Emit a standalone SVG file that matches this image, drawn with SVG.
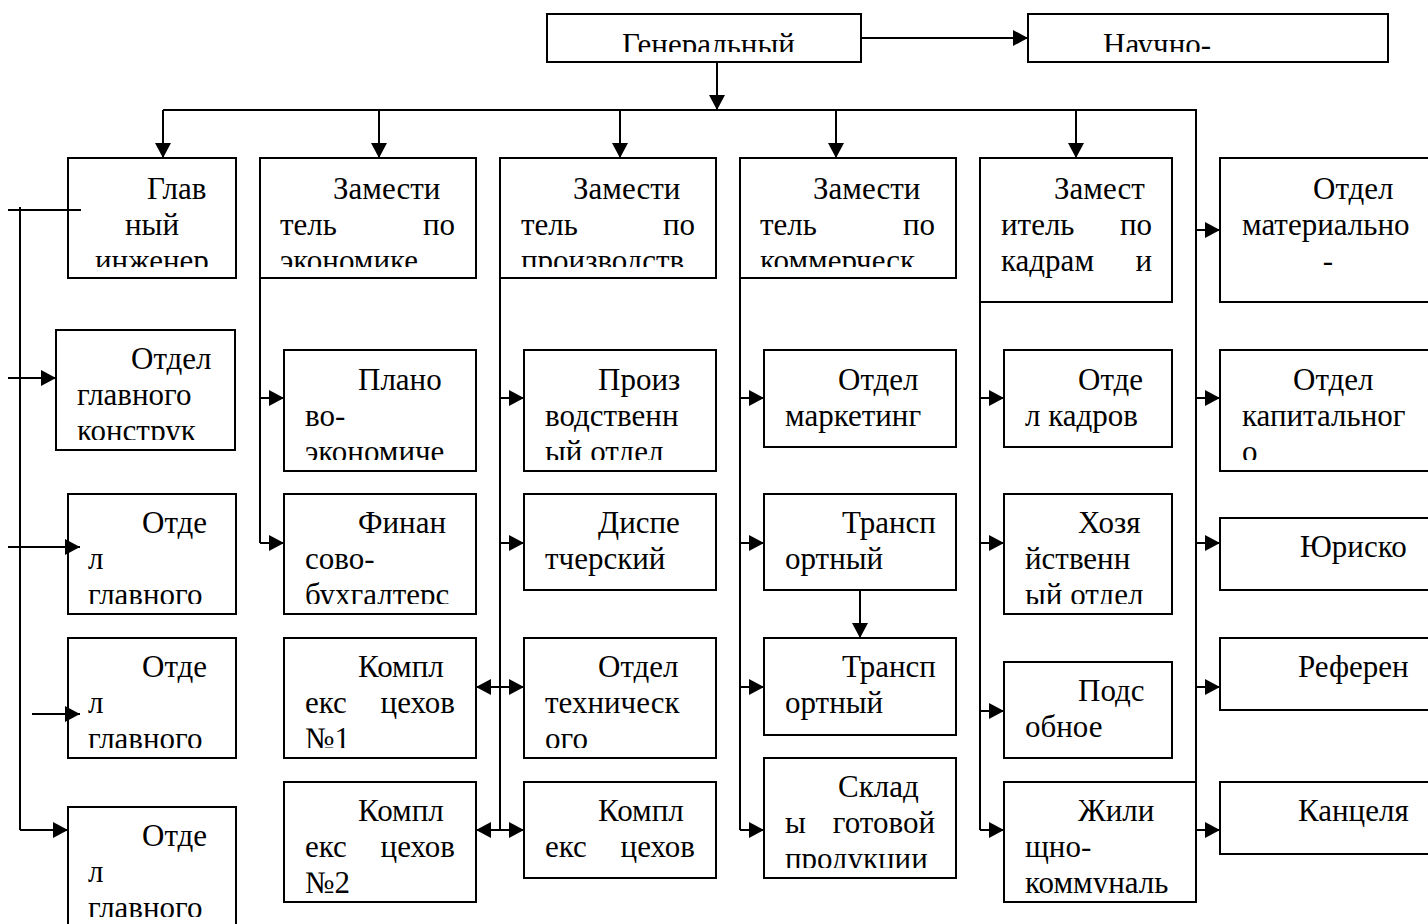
<svg xmlns="http://www.w3.org/2000/svg" width="1428" height="924" viewBox="0 0 1428 924">
<style>
.b{fill:none;stroke:#000;stroke-width:2}
.c{fill:none;stroke:#000;stroke-width:2}
.a{marker-end:url(#ah)}
.d{marker-start:url(#ah);marker-end:url(#ah)}
text{font-family:"Liberation Serif","Times New Roman",serif;font-size:31px;fill:#000}
.e{text-anchor:end}
.m{text-anchor:middle}
</style>
<defs>
<marker id="ah" markerUnits="userSpaceOnUse" markerWidth="16" markerHeight="16" refX="15" refY="8" orient="auto-start-reverse"><path d="M0,0 L15,8 L0,16 z" fill="#000"/></marker>
<clipPath id="k-gen"><rect x="547" y="14" width="314" height="38"/></clipPath>
<clipPath id="k-nau"><rect x="1028" y="14" width="360" height="38"/></clipPath>
<clipPath id="k-r1"><rect x="0" y="158" width="1428" height="109"/></clipPath>
<clipPath id="k-r1b"><rect x="0" y="158" width="1428" height="133"/></clipPath>
<clipPath id="k-ogk"><rect x="56" y="330" width="179" height="110"/></clipPath>
<clipPath id="k-r2"><rect x="0" y="350" width="1428" height="110"/></clipPath>
<clipPath id="k-r3"><rect x="0" y="494" width="1428" height="110"/></clipPath>
<clipPath id="k-r4"><rect x="0" y="638" width="1428" height="110"/></clipPath>
<clipPath id="k-r5"><rect x="0" y="782" width="1428" height="111"/></clipPath>
<clipPath id="k-skl"><rect x="764" y="758" width="192" height="110"/></clipPath>
<clipPath id="k-og3"><rect x="68" y="807" width="168" height="110"/></clipPath>
</defs>

<g id="connectors">
<path class="c a" d="M861,38 H1028"/>
<path class="c a" d="M717,62 V110"/>
<path class="c" d="M163,110 H1196 V830"/>
<path class="c a" d="M163,110 V158"/>
<path class="c a" d="M379,110 V158"/>
<path class="c a" d="M620,110 V158"/>
<path class="c a" d="M836,110 V158"/>
<path class="c a" d="M1076,110 V158"/>
<path class="c" d="M8,210 H81"/>
<path class="c" d="M20,207 V830"/>
<path class="c a" d="M20,830 H68"/>
<path class="c a" d="M8,378 H56"/>
<path class="c a" d="M8,547 H80"/>
<path class="c a" d="M32,714 H80"/>
<path class="c" d="M260,278 V543"/>
<path class="c a" d="M260,398 H284"/>
<path class="c a" d="M260,543 H284"/>
<path class="c" d="M500,278 V830"/>
<path class="c a" d="M500,398 H524"/>
<path class="c a" d="M500,543 H524"/>
<path class="c d" d="M476,687 H524"/>
<path class="c d" d="M476,830 H524"/>
<path class="c" d="M740,278 V830"/>
<path class="c a" d="M740,398 H764"/>
<path class="c a" d="M740,543 H764"/>
<path class="c a" d="M740,687 H764"/>
<path class="c a" d="M740,830 H764"/>
<path class="c a" d="M860,590 V638"/>
<path class="c" d="M980,302 V830"/>
<path class="c a" d="M980,398 H1004"/>
<path class="c a" d="M980,543 H1004"/>
<path class="c a" d="M980,711 H1004"/>
<path class="c a" d="M980,830 H1004"/>
<path class="c a" d="M1196,230 H1220"/>
<path class="c a" d="M1196,398 H1220"/>
<path class="c a" d="M1196,543 H1220"/>
<path class="c a" d="M1196,687 H1220"/>
<path class="c a" d="M1196,830 H1220"/>
</g>

<g id="gen"><rect class="b" x="547" y="14" width="314" height="48"/><text x="622" y="55" clip-path="url(#k-gen)">Генеральный</text></g>
<g id="nauch"><rect class="b" x="1028" y="14" width="360" height="48"/><text x="1103" y="55" clip-path="url(#k-nau)">Научно-</text></g>

<g id="glav"><rect class="b" x="68" y="158" width="168" height="120"/><g clip-path="url(#k-r1)"><text x="147" y="199">Глав</text><text x="125" y="235">ный</text><text x="95" y="271">инженер</text></g></g>
<g id="zeco"><rect class="b" x="260" y="158" width="216" height="120"/><g clip-path="url(#k-r1)"><text x="333" y="199">Замести</text><text x="280" y="235">тель</text><text class="e" x="455" y="235">по</text><text x="280" y="271">экономике</text></g></g>
<g id="zpro"><rect class="b" x="500" y="158" width="216" height="120"/><g clip-path="url(#k-r1)"><text x="573" y="199">Замести</text><text x="521" y="235">тель</text><text class="e" x="695" y="235">по</text><text x="521" y="271">производств</text></g></g>
<g id="zkom"><rect class="b" x="740" y="158" width="216" height="120"/><g clip-path="url(#k-r1)"><text x="813" y="199">Замести</text><text x="760" y="235">тель</text><text class="e" x="935" y="235">по</text><text x="760" y="271">коммерческ</text></g></g>
<g id="zkad"><rect class="b" x="980" y="158" width="192" height="144"/><g clip-path="url(#k-r1b)"><text x="1054" y="199">Замест</text><text x="1001" y="235">итель</text><text class="e" x="1152" y="235">по</text><text x="1001" y="271">кадрам</text><text class="e" x="1152" y="271">и</text></g></g>
<g id="omat"><rect class="b" x="1220" y="158" width="220" height="144"/><g clip-path="url(#k-r1b)"><text x="1313" y="199">Отдел</text><text x="1242" y="235">материально</text><text class="m" x="1328" y="271">-</text></g></g>

<g id="ogk"><rect class="b" x="56" y="330" width="179" height="120"/><g clip-path="url(#k-ogk)"><text x="131" y="369">Отдел</text><text x="77" y="405">главного</text><text x="77" y="441">конструк</text></g></g>
<g id="plan"><rect class="b" x="284" y="350" width="192" height="121"/><g clip-path="url(#k-r2)"><text x="358" y="390">Плано</text><text x="305" y="426">во-</text><text x="305" y="462">экономиче</text></g></g>
<g id="proiz"><rect class="b" x="524" y="350" width="192" height="121"/><g clip-path="url(#k-r2)"><text x="598" y="390">Произ</text><text x="545" y="426">водственн</text><text x="545" y="462">ый отдел</text></g></g>
<g id="mark"><rect class="b" x="764" y="350" width="192" height="97"/><text x="838" y="390">Отдел</text><text x="785" y="426">маркетинг</text></g>
<g id="okad"><rect class="b" x="1004" y="350" width="168" height="97"/><text x="1078" y="390">Отде</text><text x="1025" y="426">л кадров</text></g>
<g id="okap"><rect class="b" x="1220" y="350" width="220" height="121"/><g clip-path="url(#k-r2)"><text x="1293" y="390">Отдел</text><text x="1242" y="426">капитальног</text><text x="1242" y="462">о</text></g></g>

<g id="og1"><rect class="b" x="68" y="494" width="168" height="120"/><g clip-path="url(#k-r3)"><text x="142" y="533">Отде</text><text x="88" y="569">л</text><text x="88" y="605">главного</text></g></g>
<g id="fin"><rect class="b" x="284" y="494" width="192" height="120"/><g clip-path="url(#k-r3)"><text x="358" y="533">Финан</text><text x="305" y="569">сово-</text><text x="305" y="605">бухгалтерс</text></g></g>
<g id="disp"><rect class="b" x="524" y="494" width="192" height="96"/><text x="598" y="533">Диспе</text><text x="545" y="569">тчерский</text></g>
<g id="tr1"><rect class="b" x="764" y="494" width="192" height="96"/><text x="842" y="533">Трансп</text><text x="785" y="569">ортный</text></g>
<g id="hoz"><rect class="b" x="1004" y="494" width="168" height="120"/><g clip-path="url(#k-r3)"><text x="1078" y="533">Хозя</text><text x="1025" y="569">йственн</text><text x="1025" y="605">ый отдел</text></g></g>
<g id="yur"><rect class="b" x="1220" y="518" width="220" height="72"/><text x="1300" y="557">Юриско</text></g>

<g id="og2"><rect class="b" x="68" y="638" width="168" height="120"/><g clip-path="url(#k-r4)"><text x="142" y="677">Отде</text><text x="88" y="713">л</text><text x="88" y="749">главного</text></g></g>
<g id="k1"><rect class="b" x="284" y="638" width="192" height="120"/><g clip-path="url(#k-r4)"><text x="358" y="677">Компл</text><text x="305" y="713">екс</text><text class="e" x="455" y="713">цехов</text><text x="305" y="749">№1</text></g></g>
<g id="otex"><rect class="b" x="524" y="638" width="192" height="120"/><g clip-path="url(#k-r4)"><text x="598" y="677">Отдел</text><text x="545" y="713">техническ</text><text x="545" y="749">ого</text></g></g>
<g id="tr2"><rect class="b" x="764" y="638" width="192" height="97"/><text x="842" y="677">Трансп</text><text x="785" y="713">ортный</text></g>
<g id="pods"><rect class="b" x="1004" y="662" width="168" height="96"/><text x="1078" y="701">Подс</text><text x="1025" y="737">обное</text></g>
<g id="ref"><rect class="b" x="1220" y="638" width="220" height="72"/><text x="1298" y="677">Референ</text></g>

<g id="og3"><rect class="b" x="68" y="807" width="168" height="130"/><g clip-path="url(#k-og3)"><text x="142" y="846">Отде</text><text x="88" y="882">л</text><text x="88" y="918">главного</text></g></g>
<g id="k2"><rect class="b" x="284" y="782" width="192" height="120"/><g clip-path="url(#k-r5)"><text x="358" y="821">Компл</text><text x="305" y="857">екс</text><text class="e" x="455" y="857">цехов</text><text x="305" y="893">№2</text></g></g>
<g id="k3"><rect class="b" x="524" y="782" width="192" height="96"/><text x="598" y="821">Компл</text><text x="545" y="857">екс</text><text class="e" x="695" y="857">цехов</text></g>
<g id="sklad"><rect class="b" x="764" y="758" width="192" height="120"/><g clip-path="url(#k-skl)"><text x="838" y="797">Склад</text><text x="785" y="833">ы</text><text class="e" x="935" y="833">готовой</text><text x="785" y="869">продукции</text></g></g>
<g id="zhil"><rect class="b" x="1004" y="782" width="192" height="120"/><g clip-path="url(#k-r5)"><text x="1078" y="821">Жили</text><text x="1025" y="857">щно-</text><text x="1025" y="893">коммуналь</text></g></g>
<g id="kanc"><rect class="b" x="1220" y="782" width="220" height="72"/><text x="1298" y="821">Канцеля</text></g>
</svg>
